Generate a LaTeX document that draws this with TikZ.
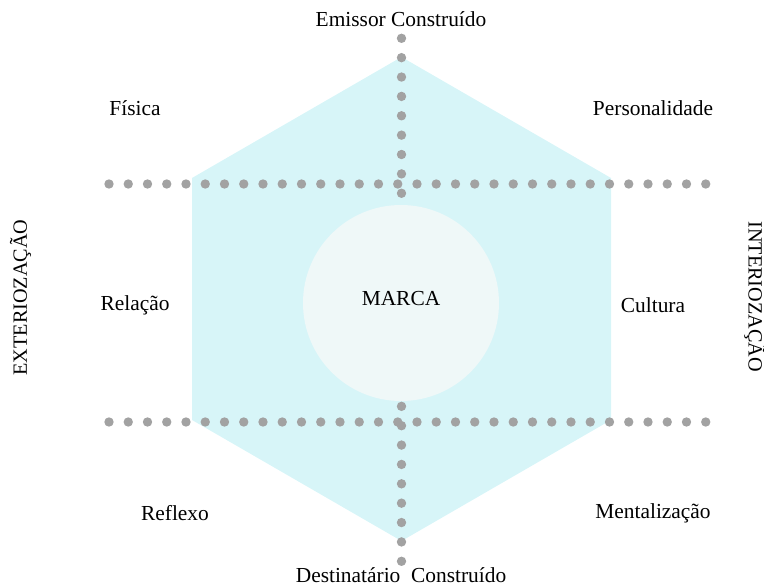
\documentclass[tikz,border=0pt]{standalone}
\usepackage{fontspec}
\setmainfont{Liberation Serif}
\definecolor{hexa}{HTML}{D7F5F8}
\definecolor{centro}{HTML}{EFF8F8}
\definecolor{ponto}{HTML}{A2A2A2}
\tikzset{
  rotulo/.style={inner sep=0pt, anchor=center},
  ponto/.style={fill=ponto}
}
\begin{document}
\begin{tikzpicture}[x=1pt, y=-1pt, line join=round, line cap=round, font=\fontsize{21.4}{25}\selectfont]
    \def\r{4.7} % raio dos pontos
    \def\dx{19.25}
    \def\dy{19.37}
    \useasboundingbox (0,0) rectangle (764,588);
    \fill[hexa] (401.5,57) -- (611,178) -- (611,420) -- (401.5,541) -- (192,420) -- (192,178) -- cycle;
    % linhas pontilhadas
    \foreach \i in {0,...,31} {
        \fill[ponto] (109+\i*\dx,184) circle (\r);
        \fill[ponto] (109+\i*\dx,422) circle (\r);
    }
    \foreach \i in {0,...,27} \fill[ponto] (401.5,38.3+\i*\dy) circle (\r);
    \fill[centro] (401,303) circle (98);
    % rótulos
    \node[rotulo] (emissor) at (401,19) {Emissor Construído};
    \node[rotulo] (destinatario) at (401,575) {Destinatário\ \ Construído};
    \node[rotulo] (fisica) at (135,108) {Física};
    \node[rotulo] (personalidade) at (653,108) {Personalidade};
    \node[rotulo] (relacao) at (135,305) {Relação};
    \node[rotulo] (marca) at (401,299) {MARCA};
    \node[rotulo] (cultura) at (653,305) {Cultura};
    \node[rotulo] (reflexo) at (175,513) {Reflexo};
    \node[rotulo] (mentalizacao) at (653,513) {Mentalização};
    \node[rotulo, rotate=90, font=\fontsize{20.2}{24}\selectfont] (exterior) at (20.5,297.5) {EXTERIOZAÇÃO};
    \node[rotulo, rotate=-90, font=\fontsize{20.2}{24}\selectfont] (interior) at (755,296.7) {INTERIOZAÇÃO};
\end{tikzpicture}
\end{document}
